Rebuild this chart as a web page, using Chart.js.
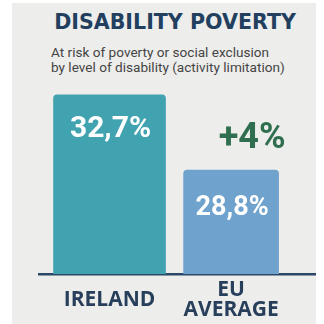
<!DOCTYPE html>
<html>
<head>
<meta charset="utf-8">
<script src="https://cdn.jsdelivr.net/npm/chart.js@4"></script>
<style>
    html, body { margin: 0; padding: 0; background: #ffffff; }
    body { width: 324px; height: 324px; position: relative; overflow: hidden; font-family: Roboto, "Noto Sans", sans-serif; }
    .panel { position: absolute; left: 12px; top: 3px; width: 304px; height: 321px; background: #ededeb; }
    .title { position: absolute; left: 0; width: 350px; top: 12px; text-align: center; font-family: "DejaVu Sans", sans-serif; font-size: 20.6px; line-height: 21px; font-weight: 700; color: #223f5f; }
    .subtitle { position: absolute; left: 51px; top: 45px; font-size: 13.6px; line-height: 14.5px; color: #454545; }
    .chart-box { position: absolute; left: 0; top: 80px; width: 324px; height: 270px; }
</style>
</head>
<body>
<div class="panel"></div>
<div class="title">DISABILITY POVERTY</div>
<div class="subtitle">At risk of poverty or social exclusion<br>by level of disability (activity limitation)</div>
<div class="chart-box"><canvas id="chart"></canvas></div>
<script>
const categories = ['IRELAND', ['EU', 'AVERAGE']];
const values = [32.7, 28.8];
const valueLabels = ['32,7%', '28,8%'];
const gapLabel = '+4%';
const barColors = ['#41a3b0', '#6fa2cd'];
const barWidths = [112, 95];

const labelPlugin = {
    id: 'valueLabels',
    afterDatasetsDraw(chart) {
        const ctx = chart.ctx;
        ctx.save();
        ctx.textAlign = 'center';
        ctx.textBaseline = 'alphabetic';
        chart.data.datasets.forEach((ds, i) => {
            const bar = chart.getDatasetMeta(i).data[0];
            if (!bar) return;
            ctx.fillStyle = '#ffffff';
            ctx.font = (i === 0 ? 'bold 30px ' : 'bold 27px ') + 'Roboto';
            ctx.fillText(valueLabels[i], bar.x + 1, bar.y + (i === 0 ? 42 : 45));
        });
        const euBar = chart.getDatasetMeta(1).data[0];
        if (euBar) {
            ctx.fillStyle = '#2f6e4f';
            ctx.font = 'bold 36px Roboto';
            ctx.fillText(gapLabel, euBar.x + 21, euBar.y - 22);
        }
        ctx.restore();
    }
};

new Chart(document.getElementById('chart'), {
    type: 'bar',
    data: {
        datasets: values.map((v, i) => ({
            label: Array.isArray(categories[i]) ? categories[i].join(' ') : categories[i],
            data: [{ x: i + 1, y: v }],
            backgroundColor: barColors[i],
            barThickness: barWidths[i],
            grouped: false,
            borderRadius: { topLeft: 4, topRight: 4 },
            borderSkipped: 'start'
        }))
    },
    options: {
        responsive: true,
        maintainAspectRatio: false,
        animation: false,
        layout: { padding: { left: 39, right: 9, top: 8, bottom: 4 } },
        plugins: { legend: { display: false }, tooltip: { enabled: false } },
        scales: {
            x: {
                type: 'linear',
                offset: false,
                min: 0.42,
                max: 2.69,
                z: 1,
                afterBuildTicks: scale => { scale.ticks = categories.map((c, i) => ({ value: i + 1 })); },
                grid: { display: false, drawTicks: false },
                border: { display: true, color: '#2b4869', width: 2.5 },
                ticks: {
                    padding: 16,
                    crossAlign: 'center',
                    autoSkip: false,
                    maxRotation: 0,
                    color: '#283f5c',
                    font: { family: '"Open Sans", sans-serif', size: 21, weight: 'bold', lineHeight: 0.95 },
                    callback: value => categories[value - 1]
                }
            },
            y: {
                display: false,
                min: 23.39,
                max: 33.06
            }
        }
    },
    plugins: [labelPlugin]
});
</script>
</body>
</html>
